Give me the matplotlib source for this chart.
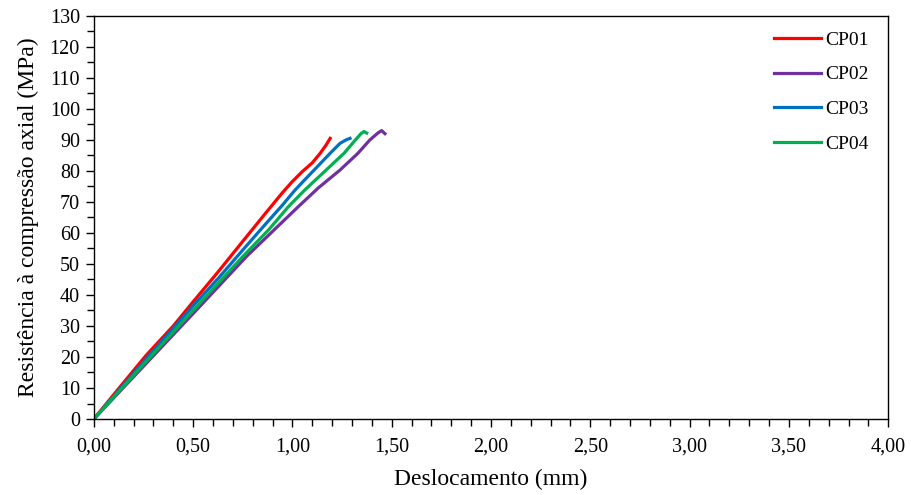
import matplotlib.pyplot as plt
from matplotlib.ticker import MultipleLocator, FuncFormatter

plt.rcParams["font.family"] = ["Liberation Serif", "DejaVu Serif"]

# curves (displacement mm, stress MPa)
cp01_x = [0.0, 0.13, 0.25, 0.27, 0.40, 0.50, 0.62, 0.75, 0.86, 0.95, 1.00, 1.05, 1.10, 1.14, 1.17, 1.19]
cp01_y = [0.0, 10.2, 19.5, 21.0, 30.0, 37.8, 47.0, 57.3, 66.0, 73.0, 76.6, 79.8, 82.6, 85.7, 88.4, 90.5]

cp02_x = [0.0, 0.25, 0.50, 0.77, 0.90, 1.03, 1.13, 1.24, 1.33, 1.39, 1.43, 1.449, 1.466]
cp02_y = [0.0, 17.0, 34.0, 52.5, 60.5, 68.5, 74.5, 80.3, 85.7, 90.0, 92.2, 93.0, 92.0]

cp03_x = [0.0, 0.25, 0.50, 0.63, 0.75, 0.85, 0.95, 1.01, 1.06, 1.12, 1.19, 1.24, 1.27, 1.29]
cp03_y = [0.0, 18.4, 36.5, 45.6, 54.5, 61.8, 69.0, 73.6, 77.0, 81.0, 85.7, 88.9, 90.0, 90.5]

cp04_x = [0.0, 0.25, 0.50, 0.75, 0.88, 0.98, 1.063, 1.17, 1.26, 1.32, 1.345, 1.36, 1.374]
cp04_y = [0.0, 17.6, 35.0, 52.4, 61.0, 68.5, 73.9, 80.3, 85.7, 90.2, 92.0, 92.7, 92.2]

labels = ["CP01", "CP02", "CP03", "CP04"]
colors = ["#FF0000", "#7030A0", "#0070C0", "#00B050"]

fig = plt.figure(figsize=(9.11, 4.95), dpi=100)
ax = fig.add_axes([0.103, 0.1535, 0.872, 0.8145])

series = [(cp01_x, cp01_y), (cp02_x, cp02_y), (cp03_x, cp03_y), (cp04_x, cp04_y)]
for (xs, ys), lab, c in zip(series, labels, colors):
    ax.plot(xs, ys, color=c, lw=2.3, label=lab)

ax.set_xlim(0, 4)
ax.set_ylim(0, 130)
ax.xaxis.set_major_locator(MultipleLocator(0.5))
ax.xaxis.set_minor_locator(MultipleLocator(0.1))
ax.yaxis.set_major_locator(MultipleLocator(10))
ax.yaxis.set_minor_locator(MultipleLocator(5))
ax.xaxis.set_major_formatter(FuncFormatter(lambda v, p: f"{v:.2f}".replace(".", ",")))
ax.tick_params(which="both", direction="out", labelsize=14.5, width=1, colors="black")
ax.tick_params(which="major", length=6, pad=4)
ax.tick_params(which="minor", length=5)
ax.tick_params(axis="x", pad=7)
for s in ax.spines.values():
    s.set_linewidth(1)

ax.set_xlabel("Deslocamento (mm)", fontsize=17, labelpad=9)
ax.set_ylabel("Resistência à compressão axial (MPa)", fontsize=17, labelpad=8)

ax.legend(loc="upper left", bbox_to_anchor=(0.834, 1.005), frameon=False, fontsize=14,
          handlelength=2.45, handletextpad=0.2, labelspacing=0.87)

fig.savefig("out.png", dpi=100)
